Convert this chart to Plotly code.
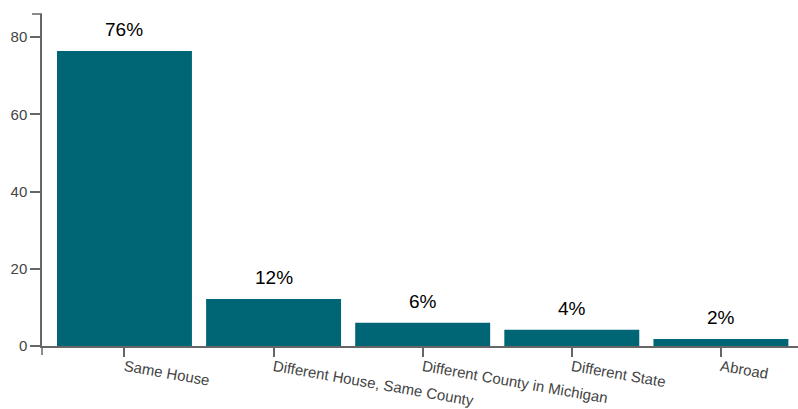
import plotly.graph_objects as go

categories = ["Same House", "Different House, Same County", "Different County in Michigan", "Different State", "Abroad"]
values = [76.4, 12.2, 6.0, 4.2, 1.8]
labels = ["76%", "12%", "6%", "4%", "2%"]

bar_color = "#006675"
axis_color = "#666666"

fig = go.Figure()
fig.add_trace(go.Bar(x=categories, y=values, marker=dict(color=bar_color, line=dict(width=0)),
                     hoverinfo="skip"))

for c, v, t in zip(categories, values, labels):
    fig.add_annotation(x=c, y=v, text=t, showarrow=False, yanchor="bottom", yshift=9,
                       font=dict(family="Liberation Sans, Arial", size=19, color="#000000"))

# d3-style outer ticks
fig.add_shape(type="line", xref="paper", yref="paper", x0=0, x1=0, y0=0, y1=-9/332,
              line=dict(color=axis_color, width=1.5))
fig.add_shape(type="line", xref="paper", yref="paper", x0=0, x1=-10/756, y0=1, y1=1,
              line=dict(color=axis_color, width=1.5))

fig.update_layout(
    width=798, height=409,
    margin=dict(l=42, r=0, t=14, b=63, autoexpand=False),
    paper_bgcolor="white", plot_bgcolor="white",
    bargap=0.095,
    showlegend=False,
    font=dict(family="Liberation Sans, Arial", color="#444444", size=15),
    xaxis=dict(type="category", range=[-0.553, 4.517], showline=True, linecolor=axis_color,
               linewidth=1.5, ticks="outside", ticklen=9, tickcolor=axis_color, tickwidth=1.5,
               tickangle=10, showgrid=False, zeroline=False, automargin=False,
               ticklabelstandoff=-4,
               tickfont=dict(size=15, color="#444444")),
    yaxis=dict(range=[0, 86], showline=True, linecolor=axis_color, linewidth=1.5,
               ticks="outside", ticklen=10, tickcolor=axis_color, tickwidth=1.5,
               tickvals=[0, 20, 40, 60, 80], showgrid=False, zeroline=False, automargin=False,
               tickfont=dict(size=15, color="#444444")),
)

fig.write_html("out.html", config={"displayModeBar": False},
               post_script="document.body.style.margin='0';document.body.style.overflow='hidden';")
